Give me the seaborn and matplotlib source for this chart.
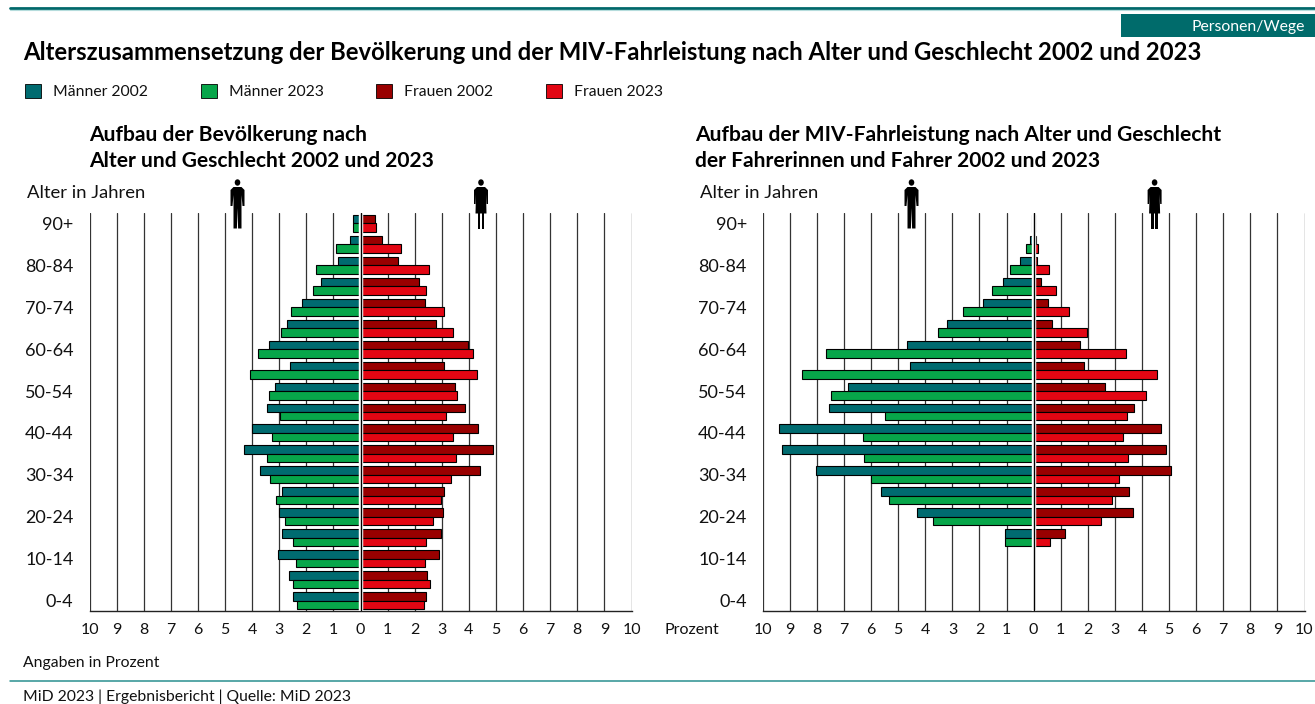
import pandas as pd
import seaborn as sns
from matplotlib import pyplot as plt
from matplotlib.patches import Patch, Polygon, Ellipse, Rectangle
from matplotlib.lines import Line2D
from matplotlib.transforms import Affine2D
import matplotlib.patheffects as pe

ages = ['90+', '85-89', '80-84', '75-79', '70-74', '65-69', '60-64', '55-59', '50-54', '45-49',
        '40-44', '35-39', '30-34', '25-29', '20-24', '15-19', '10-14', '5-9', '0-4']
age_labels = ['90+', '', '80-84', '', '70-74', '', '60-64', '', '50-54', '',
              '40-44', '', '30-34', '', '20-24', '', '10-14', '', '0-4']
x_ticks = list(range(-10, 11))
x_labels = [str(abs(v)) for v in x_ticks]

# Bevoelkerung
bev_m02 = [0.29, 0.40, 0.84, 1.47, 2.17, 2.73, 3.38, 2.60, 3.17, 3.46,
           4.01, 4.29, 3.72, 2.91, 2.99, 2.91, 3.05, 2.62, 2.50]
bev_m23 = [0.28, 0.89, 1.65, 1.75, 2.56, 2.94, 3.78, 4.07, 3.38, 2.97,
           3.28, 3.45, 3.35, 3.11, 2.77, 2.50, 2.39, 2.50, 2.36]
bev_f02 = [0.55, 0.80, 1.38, 2.17, 2.39, 2.80, 3.97, 3.09, 3.48, 3.87,
           4.32, 4.89, 4.40, 3.09, 3.03, 2.97, 2.91, 2.47, 2.42]
bev_f23 = [0.58, 1.49, 2.54, 2.42, 3.09, 3.40, 4.15, 4.30, 3.57, 3.15,
           3.43, 3.51, 3.34, 2.97, 2.66, 2.40, 2.39, 2.56, 2.36]

# MIV-Fahrleistung
miv_m02 = [0.05, 0.12, 0.52, 1.15, 1.88, 3.20, 4.69, 4.56, 6.85, 7.55,
           9.40, 9.30, 8.05, 5.63, 4.30, 1.07, 0, 0, 0]
miv_m23 = [0.05, 0.30, 0.88, 1.55, 2.60, 3.52, 7.66, 8.56, 7.50, 5.49,
           6.29, 6.28, 6.00, 5.34, 3.70, 1.05, 0, 0, 0]
miv_f02 = [0.05, 0.08, 0.12, 0.28, 0.54, 0.66, 1.71, 1.85, 2.65, 3.71,
           4.71, 4.90, 5.07, 3.53, 3.68, 1.17, 0, 0, 0]
miv_f23 = [0.06, 0.15, 0.57, 0.82, 1.31, 1.97, 3.40, 4.55, 4.16, 3.45,
           3.31, 3.47, 3.16, 2.90, 2.48, 0.59, 0, 0, 0]

TEAL = '#006b70'
GREEN = '#07a64a'
DARKRED = '#990000'
RED = '#e30613'
LINE = '#2a8f90'

sns.set_style("white")
plt.rcParams['font.family'] = ['Lato', 'DejaVu Sans']

W, H = 1315, 704
fig = plt.figure(figsize=(W / 100, H / 100), dpi=100)
px = Affine2D().scale(1 / W, -1 / H).translate(0, 1) + fig.transFigure


def ftext(x, y, s, **kw):
    kw.setdefault('va', 'center')
    kw.setdefault('fontsize', 11.3)
    kw.setdefault('color', '#111111')
    fig.text(x / W, 1 - y / H, s, **kw)


def panel(x0, x1, m02, m23, f02, f23):
    ax = fig.add_axes([x0 / W, 1 - 611 / H, (x1 - x0) / W, (611 - 213) / H])
    men = pd.DataFrame({'age': ages * 2, 'jahr': ['2002'] * 19 + ['2023'] * 19,
                        'value': [-v for v in m02] + [-v for v in m23]})
    women = pd.DataFrame({'age': ages * 2, 'jahr': ['2002'] * 19 + ['2023'] * 19,
                          'value': f02 + f23})
    sns.barplot(data=men, x='value', y='age', hue='jahr', order=ages, palette=[TEAL, GREEN],
                width=0.81, gap=0, saturation=1, errorbar=None, legend=False,
                edgecolor='black', linewidth=0.8, ax=ax)
    sns.barplot(data=women, x='value', y='age', hue='jahr', order=ages, palette=[DARKRED, RED],
                width=0.81, gap=0, saturation=1, errorbar=None, legend=False,
                edgecolor='black', linewidth=0.8, ax=ax)
    for bar in ax.patches:
        bar.set_path_effects([pe.SimplePatchShadow(offset=(0.6, -0.6), alpha=0.3), pe.Normal()])
    ax.axvline(0, color='white', lw=3.2, zorder=5)
    ax.axvline(0, color='black', lw=1.0, zorder=6)
    ax.set_xlim(-10, 10)
    ax.set_ylim(18.49, -0.49)
    ax.set_xticks(x_ticks, x_labels)
    ax.set_yticks(range(19), age_labels)
    ax.set_xlabel('')
    ax.set_ylabel('')
    ax.set_axisbelow(True)
    ax.grid(axis='x', color='#333333', lw=0.9)
    ax.grid(axis='y', visible=False)
    ax.tick_params(axis='x', length=0, pad=9, labelsize=11.5, labelcolor='#111111')
    ax.tick_params(axis='y', length=0, pad=11.5, labelsize=13, labelcolor='#111111')
    for s in ['top', 'left', 'right']:
        ax.spines[s].set_visible(False)
    ax.spines['bottom'].set_color('#222222')
    ax.spines['bottom'].set_linewidth(1.0)
    return ax


def person(cx, female=False):
    # kleine Figur ueber der Grafik
    parts = [Ellipse((cx, 182.5), 5.6, 6.4)]
    if female:
        parts.append(Polygon([(cx - 4, 187), (cx + 4, 187), (cx + 7, 190), (cx + 7, 204), (cx + 5.6, 204),
                              (cx + 5, 194), (cx + 5.5, 213.5), (cx - 5.5, 213.5), (cx - 5, 194),
                              (cx - 5.6, 204), (cx - 7, 204), (cx - 7, 190)]))
        parts.append(Rectangle((cx - 3.2, 213), 2.6, 15.5))
        parts.append(Rectangle((cx + 0.6, 213), 2.6, 15.5))
    else:
        parts.append(Polygon([(cx - 4, 187), (cx + 4, 187), (cx + 7, 190), (cx + 7, 206), (cx + 5, 206),
                              (cx + 4, 195), (cx + 4, 228.5), (cx + 0.6, 228.5), (cx, 208),
                              (cx - 0.6, 228.5), (cx - 4, 228.5), (cx - 4, 195), (cx - 5, 206), (cx - 7, 206),
                              (cx - 7, 190)]))
    for p in parts:
        p.set(transform=px, facecolor='black', edgecolor='none', zorder=10)
        fig.add_artist(p)


panel(89.5, 631.5, bev_m02, bev_m23, bev_f02, bev_f23)
panel(762.8, 1304.5, miv_m02, miv_m23, miv_f02, miv_f23)

for cx, fem in [(237.5, False), (481, True), (911.5, False), (1154.6, True)]:
    person(cx, fem)

# Rahmen oben und unten
fig.add_artist(Line2D([10, W], [8, 8], transform=px, color='#00686a', lw=2))
fig.add_artist(Line2D([10, W], [10, 10], transform=px, color='#b5dcdc', lw=0.8))
fig.add_artist(Line2D([10, W], [680.5, 680.5], transform=px, color=LINE, lw=1.1))
fig.add_artist(Rectangle((1121, 14), 194, 23, transform=px, facecolor='#006b6b', edgecolor='none'))
ftext(1305, 27, 'Personen/Wege', ha='right', color='white')

ftext(23, 52, 'Alterszusammensetzung der Bevölkerung und der MIV-Fahrleistung nach Alter und Geschlecht 2002 und 2023',
      fontsize=17.2, fontweight='bold', color='black')

handles = [Patch(facecolor=c, edgecolor='black', linewidth=0.6) for c in [TEAL, GREEN, DARKRED, RED]]
fig.legend(handles, ['Männer 2002', 'Männer 2023', 'Frauen 2002', 'Frauen 2023'], ncols=4, frameon=False,
           loc='center left', bbox_to_anchor=(25 / W, 1 - 91.5 / H), borderaxespad=0, borderpad=0,
           fontsize=11.3, handlelength=1.02, handleheight=0.96, handletextpad=0.77, columnspacing=3.35,
           labelcolor='#111111')

ftext(89, 135, 'Aufbau der Bevölkerung nach', fontsize=15.1, fontweight='bold', color='black')
ftext(89, 161, 'Alter und Geschlecht 2002 und 2023', fontsize=15.1, fontweight='bold', color='black')
ftext(695, 135, 'Aufbau der MIV-Fahrleistung nach Alter und Geschlecht', fontsize=15.1, fontweight='bold', color='black')
ftext(695, 161, 'der Fahrerinnen und Fahrer 2002 und 2023', fontsize=15.1, fontweight='bold', color='black')

ftext(27, 193, 'Alter in Jahren', fontsize=13.3)
ftext(700, 193, 'Alter in Jahren', fontsize=13.3)
ftext(665, 630, 'Prozent', fontsize=11.5)
ftext(23, 663.5, 'Angaben in Prozent')
ftext(23, 696.5, 'MiD 2023 | Ergebnisbericht | Quelle: MiD 2023')

fig.savefig('out.png', dpi=100)
